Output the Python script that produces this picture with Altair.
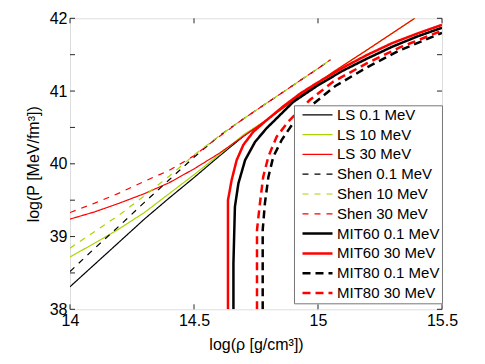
import altair as alt
import pandas as pd

# ---- data ----
names = ["LS 0.1 MeV", "LS 10 MeV", "LS 30 MeV", "Shen 0.1 MeV", "Shen 10 MeV",
         "Shen 30 MeV", "MIT60 0.1 MeV", "MIT60 30 MeV", "MIT80 0.1 MeV", "MIT80 30 MeV"]

ls01_x = [14.0, 14.1, 14.2, 14.3, 14.4, 14.5, 14.6, 14.7, 14.8, 14.9, 15.0]
ls01_y = [38.31, 38.62, 38.93, 39.24, 39.53, 39.81, 40.10, 40.38, 40.62, 40.87, 41.10]

ls10_x = [14.0, 14.1, 14.2, 14.3, 14.4, 14.5, 14.6, 14.7, 14.8, 14.9, 15.0, 15.06, 15.2, 15.39]
ls10_y = [38.72, 38.91, 39.11, 39.33, 39.59, 39.85, 40.12, 40.40, 40.62, 40.87, 41.11, 41.26, 41.57, 42.0]

ls30_x = [14.0, 14.1, 14.2, 14.3, 14.4, 14.5, 14.6, 14.7, 14.8, 14.9, 15.0, 15.06, 15.2, 15.39]
ls30_y = [39.24, 39.34, 39.46, 39.59, 39.74, 39.93, 40.14, 40.38, 40.62, 40.87, 41.11, 41.26, 41.57, 42.0]

sh01_x = [14.0, 14.1, 14.2, 14.3, 14.4, 14.5, 14.6, 14.7, 14.8, 14.9, 15.0, 15.05]
sh01_y = [38.52, 38.84, 39.15, 39.47, 39.78, 40.09, 40.38, 40.62, 40.85, 41.08, 41.31, 41.43]

sh10_x = [14.0, 14.1, 14.2, 14.3, 14.4, 14.5, 14.6, 14.7, 14.8, 14.9, 15.0, 15.05]
sh10_y = [38.84, 39.07, 39.30, 39.56, 39.83, 40.12, 40.38, 40.62, 40.85, 41.08, 41.31, 41.43]

sh30_x = [14.0, 14.1, 14.2, 14.3, 14.4, 14.5, 14.6, 14.7, 14.8, 14.9, 15.0, 15.05]
sh30_y = [39.33, 39.46, 39.60, 39.76, 39.91, 40.11, 40.37, 40.62, 40.85, 41.08, 41.31, 41.43]

m6001_x = [14.659, 14.659, 14.665, 14.679, 14.706, 14.746, 14.793, 14.82, 14.9, 15.0, 15.1, 15.2, 15.3, 15.4, 15.5]
m6001_y = [38.0, 38.63, 39.41, 39.73, 40.05, 40.30, 40.49, 40.58, 40.85, 41.08, 41.28, 41.45, 41.61, 41.75, 41.87]

m6030_x = [14.637, 14.637, 14.652, 14.672, 14.699, 14.739, 14.793, 14.86, 14.93, 15.0, 15.1, 15.2, 15.3, 15.4, 15.5]
m6030_y = [38.0, 39.50, 39.78, 40.05, 40.26, 40.44, 40.60, 40.79, 40.97, 41.12, 41.32, 41.50, 41.66, 41.79, 41.91]

m8001_x = [14.777, 14.777, 14.786, 14.80, 14.82, 14.854, 14.894, 14.98, 15.07, 15.2, 15.33, 15.5]
m8001_y = [38.0, 39.09, 39.46, 39.82, 40.10, 40.33, 40.53, 40.82, 41.07, 41.33, 41.56, 41.80]

m8030_x = [14.754, 14.754, 14.766, 14.779, 14.80, 14.833, 14.88, 14.968, 15.062, 15.196, 15.33, 15.5]
m8030_y = [38.0, 39.09, 39.46, 39.82, 40.10, 40.37, 40.58, 40.88, 41.13, 41.38, 41.60, 41.83]

series_x = [ls01_x, ls10_x, ls30_x, sh01_x, sh10_x, sh30_x, m6001_x, m6030_x, m8001_x, m8030_x]
series_y = [ls01_y, ls10_y, ls30_y, sh01_y, sh10_y, sh30_y, m6001_y, m6030_y, m8001_y, m8030_y]

x_ticks = [14, 14.5, 15, 15.5]
y_ticks = [38, 38.5, 39, 39.5, 40, 40.5, 41, 41.5, 42]

# ---- styles ----
colors = ["#000000", "#a8d400", "#ff0000", "#000000", "#a8d400", "#ff0000",
          "#000000", "#ff0000", "#000000", "#ff0000"]
dashes = [[1, 0], [1, 0], [1, 0], [6, 6], [6, 6], [6, 6], [1, 0], [1, 0], [8, 5], [8, 5]]
widths = [1.2, 1.2, 1.2, 1.2, 1.2, 1.2, 2.5, 2.5, 2.5, 2.5]

rows = []
for k, (nm, xs, ys) in enumerate(zip(names, series_x, series_y)):
    for i, (xv, yv) in enumerate(zip(xs, ys)):
        rows.append({"series": nm, "k": k, "i": i, "x": xv, "y": yv, "w": widths[k]})
df = pd.DataFrame(rows)

FONT = "Liberation Sans"
W, H = 372, 291

xscale = alt.Scale(domain=[14, 15.5], nice=False, zero=False)
yscale = alt.Scale(domain=[38, 42], nice=False, zero=False)

thick = [n for n, w in zip(names, widths) if w > 2]
thick_js = "[" + ",".join("'" + n + "'" for n in thick) + "]"

leg = alt.Legend(orient="none", legendX=224, legendY=87, title=None,
                 symbolType="M-2,0H2", symbolSize=225, symbolOffset=14,
                 labelOffset=12, padding=2, rowPadding=3.8,
                 labelFontSize=15, labelFont=FONT, labelColor="black",
                 fillColor="white", strokeColor="#777777", labelLimit=0,
                 symbolStrokeWidth={"expr": f"indexof({thick_js}, datum.value) >= 0 ? 2.5 : 1.2"})

lines = alt.Chart(df).mark_line(clip=True).encode(
    x=alt.X("x:Q", scale=xscale,
            axis=alt.Axis(values=x_ticks, format="~g", title="log(ρ [g/cm³])",
                          labelFont=FONT, labelFontSize=16, titleFont=FONT,
                          titleFontSize=16, titleFontWeight="normal",
                          labelColor="black", titleColor="black",
                          domain=False, ticks=False, grid=False,
                          labelPadding=3, titlePadding=8, labelFlush=False,
                          labelOverlap=False)),
    y=alt.Y("y:Q", scale=yscale,
            axis=alt.Axis(values=y_ticks, format="~g", title="log(P [MeV/fm³])",
                          labelFont=FONT, labelFontSize=16, titleFont=FONT,
                          titleFontSize=16, titleFontWeight="normal",
                          labelColor="black", titleColor="black",
                          domain=False, ticks=False, grid=False,
                          labelPadding=3, titlePadding=8, labelFlush=False,
                          labelOverlap=False)),
    color=alt.Color("series:N", scale=alt.Scale(domain=names, range=colors), legend=leg),
    strokeDash=alt.StrokeDash("series:N", scale=alt.Scale(domain=names, range=dashes), legend=leg),
    strokeWidth=alt.StrokeWidth("w:Q", scale=None),
    detail="k:Q",
    order="i:Q",
)

xt = pd.DataFrame({"x": x_ticks})
yt = pd.DataFrame({"y": y_ticks})
TICK = 5
tick_color = "#262626"

xt_bottom = alt.Chart(xt).mark_rule(color=tick_color, strokeWidth=1).encode(
    x=alt.X("x:Q", scale=xscale), y=alt.value(H), y2=alt.value(H - TICK))
xt_top = alt.Chart(xt).mark_rule(color=tick_color, strokeWidth=1).encode(
    x=alt.X("x:Q", scale=xscale), y=alt.value(0), y2=alt.value(TICK))
yt_left = alt.Chart(yt).mark_rule(color=tick_color, strokeWidth=1).encode(
    y=alt.Y("y:Q", scale=yscale), x=alt.value(0), x2=alt.value(TICK))
yt_right = alt.Chart(yt).mark_rule(color=tick_color, strokeWidth=1).encode(
    y=alt.Y("y:Q", scale=yscale), x=alt.value(W), x2=alt.value(W - TICK))

chart = alt.layer(lines, xt_bottom, xt_top, yt_left, yt_right).properties(
    width=W, height=H,
    autosize="none",
    padding={"left": 62, "top": 10.3, "right": 30, "bottom": 50},
).configure_view(stroke=tick_color, strokeWidth=1).configure(background="white")

chart.save("out.html", embed_options={"renderer": "svg", "actions": False})
